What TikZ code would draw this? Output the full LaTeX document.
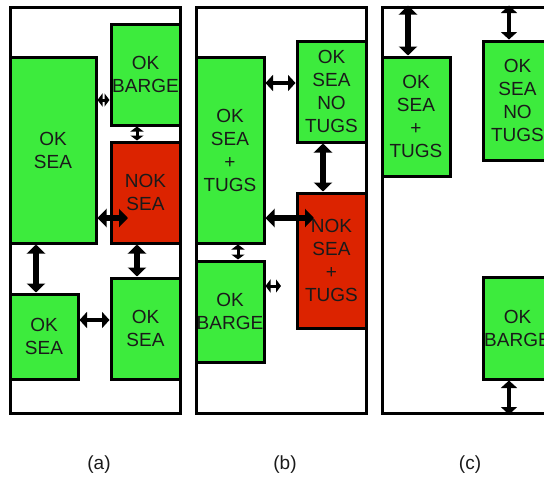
\documentclass[tikz,border=0pt]{standalone}
\usepackage{fontspec}
\setmainfont{Liberation Sans}
\usepackage{tikz}
\usetikzlibrary{arrows.meta,calc}
\definecolor{okgreen}{HTML}{3DEB3D}
\definecolor{nokred}{HTML}{DC2300}
\definecolor{txtgray}{HTML}{1A1A1A}

\begin{document}
\begin{tikzpicture}[
  x=1pt, y=-1pt,
  frame/.style={draw, line width=3pt, inner sep=0pt, minimum width=170pt, minimum height=406pt},
  okbox/.style={draw, line width=3pt, fill=okgreen, inner sep=0pt, align=center, text=txtgray, font=\fontsize{19}{23}\selectfont},
  nokbox/.style={okbox, fill=nokred},
  bigarrow/.style={{Triangle[length=9pt,width=18pt]}-{Triangle[length=9pt,width=18pt]}, line width=6.5pt},
  midarrow/.style={{Triangle[length=7.5pt,width=16pt]}-{Triangle[length=7.5pt,width=16pt]}, line width=4.5pt},
  tinyarrow/.style={{Triangle[length=5pt,width=13pt]}-{Triangle[length=5pt,width=13pt]}, line width=3pt},
  label/.style={text=txtgray, font=\fontsize{19}{23}\selectfont}
]
\clip (0,0) rectangle (544,480);

% frames
\node[frame] (aFrame) at (95,210) {};
\node[frame] (bFrame) at (281,210) {};
\node[frame] (cFrame) at (467,210) {};

% (a)
\node[okbox, minimum width=86pt, minimum height=186pt] (aSea) at (53,150) {OK\\SEA};
\node[okbox, minimum width=69pt, minimum height=101pt] (aBarge) at (145.5,74.5) {OK\\BARGE};
\node[nokbox, minimum width=69pt, minimum height=101pt] (aNok) at (145.5,192.5) {NOK\\SEA};
\node[okbox, minimum width=68pt, minimum height=85pt] (aSeaL) at (44,336.5) {OK\\SEA};
\node[okbox, minimum width=69pt, minimum height=101pt] (aSeaR) at (145.5,328.5) {OK\\SEA};

% (b)
\node[okbox, minimum width=68pt, minimum height=186pt] (bSeaTugs) at (230,150) {OK\\SEA\\+\\TUGS};
\node[okbox, minimum width=69pt, minimum height=101pt] (bNoTugs) at (331.5,91.5) {OK\\SEA\\NO\\TUGS};
\node[nokbox, minimum width=69pt, minimum height=135pt] (bNok) at (331.5,260.5) {NOK\\SEA\\+\\TUGS};
\node[okbox, minimum width=68pt, minimum height=101pt] (bBarge) at (230,311.5) {OK\\BARGE};

% (c)
\node[okbox, minimum width=68pt, minimum height=119pt] (cSeaTugs) at (416,116.5) {OK\\SEA\\+\\TUGS};
\node[okbox, minimum width=69pt, minimum height=119pt] (cNoTugs) at (517.5,100.5) {OK\\SEA\\NO\\TUGS};
\node[okbox, minimum width=69pt, minimum height=102pt] (cBarge) at (517.5,328) {OK\\BARGE};

\coordinate (aNokIn) at (128,218);
\coordinate (bNokIn) at (314,218);
\coordinate (bBargeOut) at (281,286);

\draw[tinyarrow] (aSea.east |- 0,100) -- (aBarge.west |- 0,100);
\draw[tinyarrow] (aBarge.south -| 137,0) -- (aNok.north -| 137,0);
\draw[bigarrow] (aSea.east |- aNokIn) -- (aNokIn);
\draw[bigarrow] (aSea.south -| 36,0) -- (aSeaL.north -| 36,0);
\draw[bigarrow] (aNok.south -| 137,0) -- (aSeaR.north -| 137,0);
\draw[midarrow] (aSeaL.east |- 0,320) -- (aSeaR.west |- 0,320);

\draw[midarrow] (bSeaTugs.east |- 0,83) -- (bNoTugs.west |- 0,83);
\draw[bigarrow] (bNoTugs.south -| 323,0) -- (bNok.north -| 323,0);
\draw[bigarrow] (bSeaTugs.east |- bNokIn) -- (bNokIn);
\draw[tinyarrow] (bSeaTugs.south -| 238,0) -- (bBarge.north -| 238,0);
\draw[tinyarrow] (bBarge.east |- bBargeOut) -- (bBargeOut);

\draw[bigarrow] (cFrame.north -| 408,0) -- (cSeaTugs.north -| 408,0);
\draw[midarrow] (cFrame.north -| 509,0) -- (cNoTugs.north -| 509,0);
\draw[midarrow] (cBarge.south -| 509,0) -- (cFrame.south -| 509,0);

\node[label] (la) at (99,465) {(a)};
\node[label] (lb) at (285,465) {(b)};
\node[label] (lc) at (470,465) {(c)};

\end{tikzpicture}
\end{document}
